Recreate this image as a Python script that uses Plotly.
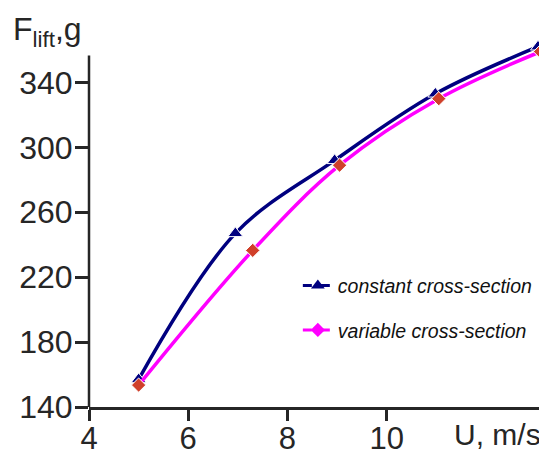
import plotly.graph_objects as go

u_const = [5.0, 6.95, 8.95, 10.98, 13.05]
f_const = [157, 247, 292, 333, 362]
u_var = [5.0, 7.3, 9.05, 11.05, 13.1]
f_var = [153.5, 236.5, 289, 330, 359]
x_ticks = [4, 6, 8, 10]
y_ticks = [140, 180, 220, 260, 300, 340]

NAVY = "#00007f"
MAG = "#ff00ff"
RED = "#d0402a"
TXT = "#262626"

Y_MIN, Y_AXIS_TOP, Y_MAX = 140, 356.6, 368

fig = go.Figure()
fig.add_trace(go.Scatter(x=u_const, y=f_const, mode="lines+markers", line=dict(color=NAVY, width=3.5, shape="spline", smoothing=1),
                         marker=dict(symbol="triangle-up", size=13, color=NAVY, line=dict(color="white", width=1)),
                         showlegend=False, cliponaxis=False))
fig.add_trace(go.Scatter(x=u_var, y=f_var, mode="lines+markers", line=dict(color=MAG, width=3.5, shape="spline", smoothing=1),
                         marker=dict(symbol="diamond", size=11, color=RED, line=dict(color="white", width=1)),
                         showlegend=False, cliponaxis=False))
fig.add_trace(go.Scatter(x=[None], y=[None], mode="lines+markers", name="constant cross-section", legendgroup="a",
                         line=dict(color=NAVY, width=3, dash="dash"), marker=dict(symbol="triangle-up", size=12, color=NAVY)))
fig.add_trace(go.Scatter(x=[None], y=[None], mode="lines+markers", name="variable cross-section", legendgroup="b",
                         line=dict(color=MAG, width=3, dash="dash"), marker=dict(symbol="diamond", size=11, color=MAG)))

# y axis line stops below the top of the plotting range (markers run past it)
fig.add_shape(type="line", xref="paper", yref="paper", x0=0, x1=0, y0=0,
              y1=(Y_AXIS_TOP - Y_MIN) / (Y_MAX - Y_MIN), line=dict(color=TXT, width=2.5), layer="above")

# page body has an 8px default margin, so the figure is sized to fit inside it
fig.update_layout(
    width=539, height=444, margin=dict(l=81, r=4, t=28.5, b=45, autoexpand=False),
    paper_bgcolor="white", plot_bgcolor="white",
    font=dict(family="Liberation Sans, Arial, sans-serif", color=TXT),
    legend=dict(x=0.46, y=0.38, xanchor="left", yanchor="top", bgcolor="rgba(0,0,0,0)",
                font=dict(size=19.5, style="italic", color="#111"), tracegroupgap=16, itemwidth=30),
    xaxis=dict(range=[4, 13.15], tickvals=x_ticks, showgrid=False, zeroline=False, showline=True, linecolor=TXT, linewidth=2.5,
               ticks="outside", ticklen=11, tickwidth=2.5, tickcolor=TXT, tickfont=dict(size=31), automargin=False,
               ticklabelstandoff=-9),
    yaxis=dict(range=[Y_MIN, Y_MAX], tickvals=y_ticks, showgrid=False, zeroline=False, showline=False,
               ticks="outside", ticklen=13, tickwidth=2.5, tickcolor=TXT, tickfont=dict(size=32), automargin=False,
               ticklabelstandoff=-4),
    annotations=[
        dict(text="F<sub>lift</sub>,g", xref="paper", yref="paper", x=-0.172, y=0.953, xanchor="left", yanchor="bottom",
             showarrow=False, font=dict(size=32, color=TXT)),
        dict(text="U, m/s", xref="paper", yref="paper", x=1.0, y=-0.024, xanchor="right", yanchor="top",
             showarrow=False, font=dict(size=30, color=TXT)),
    ],
)
fig.write_html("out.html")
